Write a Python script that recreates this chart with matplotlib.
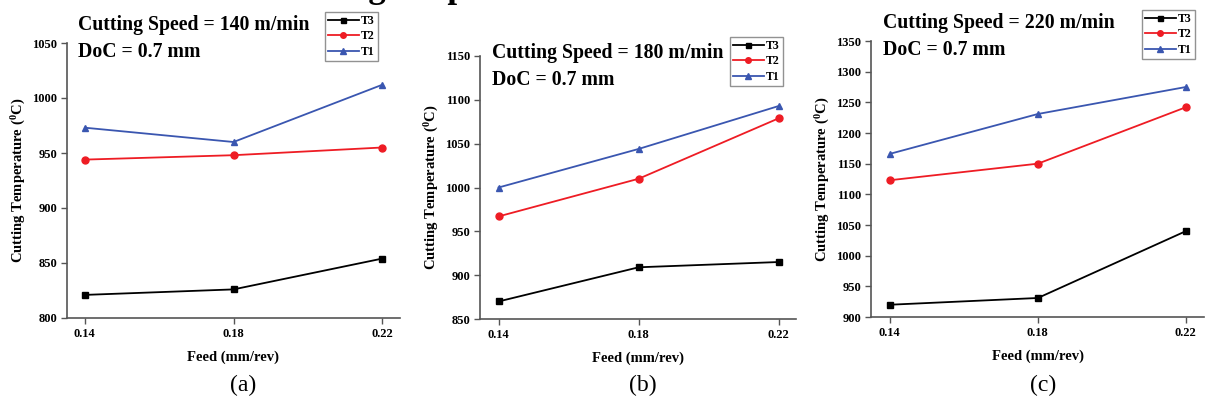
import matplotlib
matplotlib.use("Agg")
import matplotlib.pyplot as plt

plt.rcParams['font.family'] = ['Liberation Serif', 'DejaVu Serif']
plt.rcParams['mathtext.fontset'] = 'custom'
plt.rcParams['mathtext.rm'] = 'Liberation Serif:bold'
plt.rcParams['mathtext.bf'] = 'Liberation Serif:bold'
plt.rcParams['mathtext.it'] = 'Liberation Serif:bold'

feed = [0.14, 0.18, 0.22]
feed_labels = ['0.14', '0.18', '0.22']

speeds = [140, 180, 220]
doc = 0.7

t1_a = [973, 960, 1012]
t2_a = [944, 948, 955]
t3_a = [821, 826, 854]

t1_b = [1000, 1044, 1093]
t2_b = [967, 1010, 1079]
t3_b = [870, 909, 915]

t1_c = [1166, 1231, 1275]
t2_c = [1123, 1150, 1242]
t3_c = [920, 931, 1040]

ylims = [(800, 1050), (850, 1150), (900, 1350)]
panel_labels = ['(a)', '(b)', '(c)']

W, H = 1208, 403
fig = plt.figure(figsize=(W / 100, H / 100), dpi=100)

def fx(px):
    return px / W

def fy(py):
    return 1 - py / H

# axes boxes in pixel coords: left, top, right, bottom
boxes = [(67, 43, 400, 318), (480, 56, 796, 319), (871, 41, 1204, 317)]
xlims = [(0.1352, 0.2248), (0.1347, 0.2249), (0.1349, 0.2249)]
text_pos = [(78, 15), (492, 43), (883, 13)]
legend_pos = [(325, 12), (730, 37), (1142, 10)]
caption_x = [243, 643, 1043]

data = [(t3_a, t2_a, t1_a), (t3_b, t2_b, t1_b), (t3_c, t2_c, t1_c)]

blue = '#3a56b0'
red = '#ee1c24'
spine_col = '#555555'

for i in range(3):
    l, t, r, b = boxes[i]
    ax = fig.add_axes([fx(l), fy(b), fx(r - l), (b - t) / H])
    t3, t2, t1 = data[i]
    ax.plot(feed, t3, color='black', marker='s', markersize=4.5, lw=1.3, label='T3', clip_on=False)
    ax.plot(feed, t2, color=red, marker='o', markersize=5, lw=1.3, label='T2', clip_on=False)
    ax.plot(feed, t1, color=blue, marker='^', markersize=5, lw=1.3, label='T1', clip_on=False)
    ax.set_xlim(*xlims[i])
    ax.set_ylim(*ylims[i])
    ax.set_xticks(feed)
    ax.set_xticklabels(feed_labels)
    lo, hi = ylims[i]
    ax.set_yticks(list(range(lo, hi + 1, 50)))
    for s in ['top', 'right']:
        ax.spines[s].set_visible(False)
    for s in ['left', 'bottom']:
        ax.spines[s].set_color(spine_col)
        ax.spines[s].set_linewidth(1.2)
    ax.tick_params(direction='out', length=4, width=1, color=spine_col,
                   labelsize=9, pad=3)
    for lab in ax.get_xticklabels() + ax.get_yticklabels():
        lab.set_fontweight('bold')
    ax.set_xlabel('Feed (mm/rev)', fontsize=10.5, fontweight='bold', labelpad=8)
    ax.set_ylabel(r'Cutting Temperature ($^{0}$C)', fontsize=10.5, fontweight='bold', labelpad=3)

    tx, ty = text_pos[i]
    fig.text(fx(tx), fy(ty), f'Cutting Speed = {speeds[i]} m/min\nDoC = {doc} mm',
             fontsize=14.2, fontweight='bold', ha='left', va='top', linespacing=1.45)

    lx, ly = legend_pos[i]
    leg = ax.legend(loc='upper left', bbox_to_anchor=(fx(lx), fy(ly)),
                    bbox_transform=fig.transFigure, frameon=True, fancybox=False,
                    prop={'family': 'Liberation Serif', 'weight': 'bold', 'size': 8.5},
                    handlelength=2.6, handletextpad=0.2, borderpad=0.25,
                    labelspacing=0.3, borderaxespad=0, markerscale=0.8)
    leg.get_frame().set_edgecolor('#777777')
    leg.get_frame().set_linewidth(1.0)

    fig.text(fx(caption_x[i]), fy(385), panel_labels[i], fontsize=17,
             ha='center', va='center')

# partially cropped heading above the figure (only descenders visible)
fig.text(fx(386), fy(-3), 'Cutting', fontsize=25, fontweight='bold',
         ha='right', va='baseline')
fig.text(fx(428), fy(-3), 'Speed', fontsize=25, fontweight='bold',
         ha='left', va='baseline')

fig.savefig('out.png', dpi=100)
